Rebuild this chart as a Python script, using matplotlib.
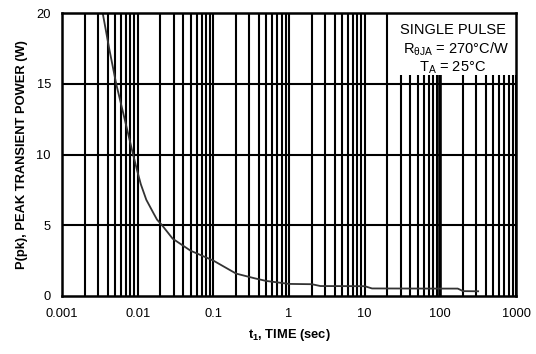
import numpy as np
import matplotlib.pyplot as plt

# curve
t_sec = [0.00345, 0.0042, 0.0052, 0.0068, 0.0087, 0.0098, 0.011, 0.013, 0.016,
         0.018, 0.021, 0.029, 0.05, 0.1, 0.2, 0.35, 0.5, 0.8, 1.0, 2.0, 2.6,
         10.0, 12.5, 100.0, 170.0, 200.0, 316.0]
p_pk = [20.0, 17.5, 15.0, 12.4, 10.0, 8.9, 7.9, 6.8, 5.9,
        5.4, 5.0, 4.05, 3.2, 2.5, 1.58, 1.25, 1.06, 0.92, 0.85, 0.83, 0.7,
        0.69, 0.53, 0.52, 0.52, 0.34, 0.33]

x_ticks = [0.001, 0.01, 0.1, 1, 10, 100, 1000]
x_ticklabels = ['0.001', '0.01', '0.1', '1', '10', '100', '1000']
y_ticks = [0, 5, 10, 15, 20]

plt.rcParams['font.family'] = ['Liberation Sans', 'DejaVu Sans']
plt.rcParams['mathtext.fontset'] = 'custom'
plt.rcParams['mathtext.rm'] = 'Liberation Sans'
plt.rcParams['mathtext.it'] = 'Liberation Sans'
plt.rcParams['mathtext.bf'] = 'Liberation Sans:bold'

fig = plt.figure(figsize=(5.36, 3.54), dpi=100)
ax = fig.add_axes([0.1157, 0.164, 0.847, 0.799])

ax.set_xscale('log')
ax.set_xlim(0.001, 1000)
ax.set_ylim(0, 20)

# vertical grid at every 1..9 x decade
for dec in [0.001, 0.01, 0.1, 1, 10, 100]:
    for m in range(2, 11):
        lw = 2.6 if dec * m == 100 else 1.5
        ax.axvline(dec * m, color='black', lw=lw, zorder=1)
for yv in [5, 10, 15]:
    ax.axhline(yv, color='black', lw=1.5, zorder=1)

ax.plot(t_sec, p_pk, color='#333333', lw=1.3, zorder=3)

# white legend box hiding the grid in the corner
ax.add_patch(plt.Rectangle((0.74, 0.78), 0.26, 0.22, transform=ax.transAxes,
                           facecolor='white', edgecolor='none', zorder=2))
ax.text(0.86, 0.94, 'SINGLE PULSE', transform=ax.transAxes, ha='center',
        va='center', fontsize=10.5, zorder=4)
ax.text(0.868, 0.872, r'R$_{\theta JA}$ = 270°C/W', transform=ax.transAxes,
        ha='center', va='center', fontsize=10.5, zorder=4)
ax.text(0.86, 0.805, r'T$_\mathrm{A}$ = 25°C', transform=ax.transAxes, ha='center',
        va='center', fontsize=10.5, zorder=4)

ax.set_xticks(x_ticks)
ax.set_xticklabels(x_ticklabels)
ax.xaxis.set_minor_locator(plt.NullLocator())
ax.set_yticks(y_ticks)
ax.tick_params(axis='both', length=0, labelsize=9.3)
ax.tick_params(axis='x', pad=9)
ax.tick_params(axis='y', pad=8)

for s in ax.spines.values():
    s.set_linewidth(1.8)
    s.set_zorder(5)

ax.set_xlabel(r't$_\mathbf{1}$, TIME (sec)', fontsize=9.3, fontweight='bold', labelpad=5)
ax.set_ylabel('P(pk), PEAK TRANSIENT POWER (W)', fontsize=9.3, fontweight='bold', labelpad=6)

fig.savefig('out.png', dpi=100)
